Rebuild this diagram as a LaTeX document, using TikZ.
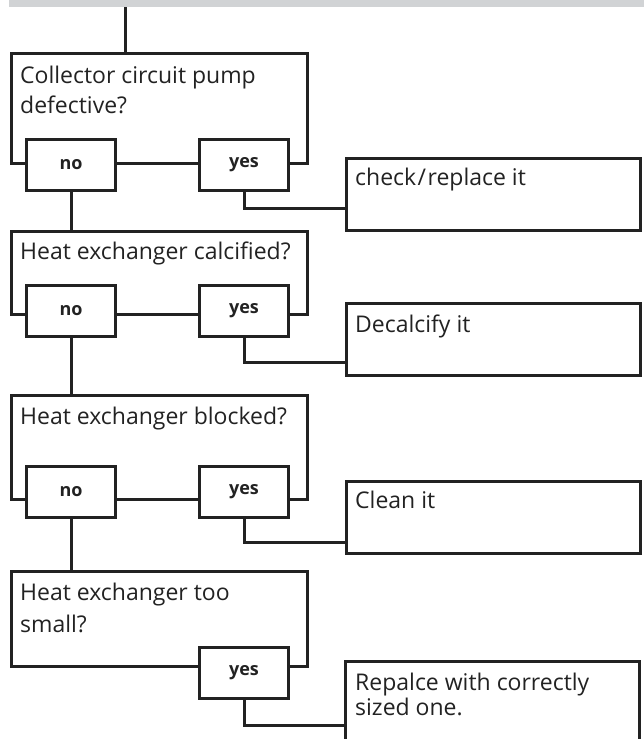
\documentclass[tikz,border=0pt]{standalone}
\usepackage{fontspec}
\setmainfont{Open Sans}
\definecolor{ink}{HTML}{222222}
\definecolor{bar}{HTML}{D1D3D5}
\begin{document}
\begin{tikzpicture}[x=1pt,y=-1pt,
  qbox/.style={draw=ink, line width=3pt, anchor=north west, inner sep=0pt, minimum width=296pt},
  actbox/.style={draw=ink, line width=3pt, anchor=north west, inner sep=0pt, minimum width=294pt, minimum height=72pt},
  ansbox/.style={draw=ink, fill=white, line width=3pt, inner sep=0pt, minimum width=89pt, minimum height=51pt, text=ink, font=\bfseries\fontsize{18}{20}\selectfont},
  txt/.style={anchor=base west, align=left, inner sep=0pt, text=ink, font=\fontsize{23}{30}\selectfont},
  wire/.style={draw=ink, line width=3pt}]
\useasboundingbox (0,0) rectangle (644,739);
\fill[bar] (9,0) rectangle (644,7);
\coordinate (top) at (125,7);

% question boxes
\node[qbox, minimum height=110pt] (q1) at (10,52) {};
\node[qbox, minimum height=83pt] (q2) at (10,230) {};
\node[qbox, minimum height=104pt] (q3) at (10,394) {};
\node[qbox, minimum height=95pt] (q4) at (10,570) {};

% action boxes
\node[actbox] (a1) at (345,157) {};
\node[actbox] (a2) at (345,302) {};
\node[actbox] (a3) at (345,480) {};
\node[anchor=north west, inner sep=0pt, minimum width=294pt, minimum height=80pt] (a4) at (345,661) {};
\draw[wire] (a4.south west) -- (a4.north west) -- (a4.north east) -- (a4.south east);

% texts (base = baseline of last line)
\node[txt] (t1) at (20,113) {Collector circuit pump\\defective?};
\node[txt] (t2) at (20,259) {Heat exchanger calcified?};
\node[txt] (t3) at (20,424) {Heat exchanger blocked?};
\node[txt, font=\fontsize{23}{32}\selectfont] (t4) at (20,632) {Heat exchanger too\\small?};
\node[txt] (s1) at (355,185) {check\kern1.5pt/\kern1.5pt replace it};
\node[txt] (s2) at (355,332) {Decalcify it};
\node[txt] (s3) at (355,508) {Clean it};
\node[txt, font=\fontsize{23}{25}\selectfont] (s4) at (355,715) {Repalce with correctly\\sized one.};

\draw[wire] (top) -- (top |- q1.north);

% answer boxes
\node[ansbox] (n1) at (71,164.5) {no};
\node[ansbox] (y1) at (244,164.5) {yes};
\node[ansbox] (n2) at (71,311) {no};
\node[ansbox] (y2) at (244,311) {yes};
\node[ansbox] (n3) at (71,492) {no};
\node[ansbox] (y3) at (244,492) {yes};
\node[ansbox] (y4) at (244,673) {yes};

\coordinate (c1) at (345,208);
\coordinate (c2) at (345,362);
\coordinate (c3) at (345,542);
\coordinate (c4) at (345,725);
\draw[wire] (n1.south) -- (n1.south |- q2.north);
\draw[wire] (n2.south) -- (n2.south |- q3.north);
\draw[wire] (n3.south) -- (n3.south |- q4.north);
\draw[wire] (y1.south) |- (c1);
\draw[wire] (y2.south) |- (c2);
\draw[wire] (y3.south) |- (c3);
\draw[wire] (y4.south) |- (c4);
\end{tikzpicture}
\end{document}
